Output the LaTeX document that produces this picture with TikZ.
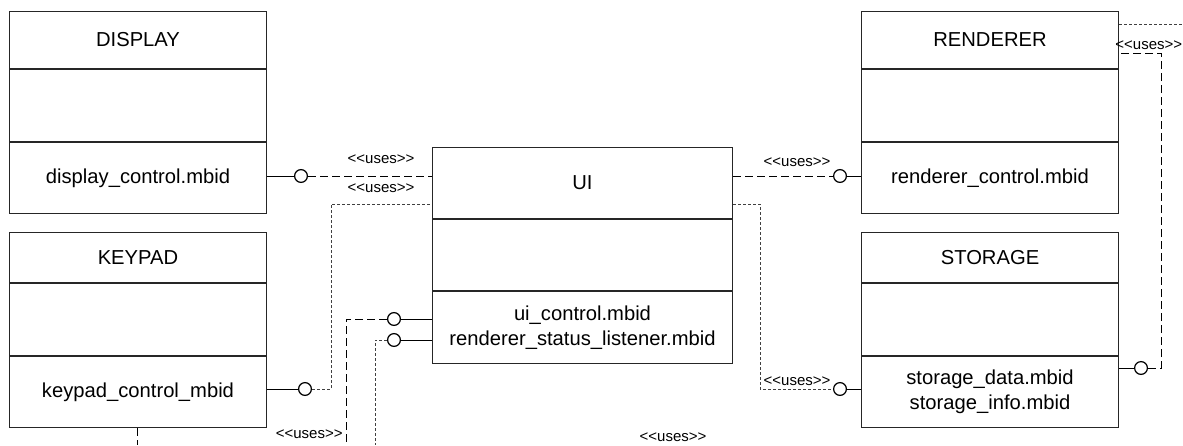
\documentclass[tikz,border=0pt]{standalone}
\usepackage{fontspec}
\setmainfont{Liberation Sans}
\usetikzlibrary{positioning}

\begin{document}
\begin{tikzpicture}[
    x=0.5pt, y=-0.5pt,
    clspart/.style={rectangle, draw=black!85, fill=white, line width=0.5pt,
                    minimum width=128.5pt, inner sep=0pt, font=\fontsize{10.1}{12.5}\selectfont,
                    align=center},
    uipart/.style={clspart, minimum width=150pt},
    lolli/.style={circle, draw=black, fill=white, line width=0.6pt,
                  minimum size=6.4pt, inner sep=0pt},
    usesline/.style={line width=0.5pt, dash pattern=on 4pt off 2pt},
    usesdot/.style={line width=0.4pt, black!75, dash pattern=on 1.5pt off 1pt},
    conn/.style={line width=0.5pt},
    useslbl/.style={font=\fontsize{7.5}{9}\selectfont, inner sep=0pt}
  ]
    \useasboundingbox (0,0) rectangle (1183,445);
    \clip (0,0) rectangle (1183,445);

    % --- DISPLAY ---
    \node[clspart, minimum height=28.5pt, anchor=north west] (disphead) at (9,11) {DISPLAY};
    \node[clspart, minimum height=36pt, below=0pt of disphead] (dispbody) {};
    \node[clspart, minimum height=35.5pt, below=0pt of dispbody] (dispfoot) {display\_control.mbid};

    % --- KEYPAD ---
    \node[clspart, minimum height=25pt, anchor=north west] (kphead) at (9,232) {KEYPAD};
    \node[clspart, minimum height=36pt, below=0pt of kphead] (kpbody) {};
    \node[clspart, minimum height=35.5pt, below=0pt of kpbody] (kpfoot) {keypad\_control\_mbid};

    % --- UI ---
    \node[uipart, minimum height=35.5pt, anchor=north west] (uihead) at (432,147) {UI};
    \node[uipart, minimum height=35.5pt, below=0pt of uihead] (uibody) {};
    \node[uipart, minimum height=36pt, below=0pt of uibody] (uifoot)
      {ui\_control.mbid\\renderer\_status\_listener.mbid};

    % --- RENDERER ---
    \node[clspart, minimum height=28.5pt, anchor=north west] (rendhead) at (861,11) {RENDERER};
    \node[clspart, minimum height=36pt, below=0pt of rendhead] (rendbody) {};
    \node[clspart, minimum height=35.5pt, below=0pt of rendbody] (rendfoot) {renderer\_control.mbid};

    % --- STORAGE ---
    \node[clspart, minimum height=25pt, anchor=north west] (storhead) at (861,232) {STORAGE};
    \node[clspart, minimum height=36pt, below=0pt of storhead] (storbody) {};
    \node[clspart, minimum height=35.5pt, below=0pt of storbody] (storfoot)
      {storage\_data.mbid\\storage\_info.mbid};

    % Interface circles
    \node[lolli] (dispif) at (301,176) {};
    \node[lolli] (kpif)   at (305,389) {};
    \node[lolli] (uictl)  at (394,319) {};
    \node[lolli] (uirsl)  at (394,340) {};
    \node[lolli] (rendif) at (840,176) {};
    \node[lolli] (storif) at (840,389) {};
    \node[lolli] (storex) at (1141,368) {};

    % Lollipop stems
    \draw[conn] (dispfoot.east |- dispif) -- (dispif);
    \draw[conn] (kpfoot.east |- kpif) -- (kpif);
    \draw[conn] (uifoot.west |- uictl) -- (uictl);
    \draw[conn] (uifoot.west |- uirsl) -- (uirsl);
    \draw[conn] (rendfoot.west |- rendif) -- (rendif);
    \draw[conn] (storfoot.west |- storif) -- (storif);
    \draw[conn] (storfoot.east |- storex) -- (storex);

    % Uses connectors
    \draw[usesline] (dispif) -- (dispif -| uihead.west);
    \draw[usesdot] (kpif) -- (331,389) -- (331,204) -- (uihead.west |- 0,204);
    \draw[usesline] (uictl) -- (346,319) -- (346,445);
    \draw[usesdot] (uirsl) -- (375,340) -- (375,445);
    \draw[usesline] (uihead.east |- rendif) -- (rendif);
    \draw[usesdot] (uihead.east |- 0,204) -- (760,204) -- (760,389) -- (storif);
    \draw[usesline] (storex) -- (1161,368) -- (1161,53) -- (rendhead.east |- 0,53);
    \draw[usesdot] (rendhead.east |- 0,24) -- (1183,24);
    \draw[usesline] (kpfoot.south -| 137,0) -- (137,445);

    % Labels
    \node[useslbl] (l1) at (381,159) {<{}<uses>{}>};
    \node[useslbl] (l2) at (381,188) {<{}<uses>{}>};
    \node[useslbl, anchor=east] (l3) at (343,434) {<{}<uses>{}>};
    \node[useslbl] (l4) at (797,162) {<{}<uses>{}>};
    \node[useslbl] (l5) at (797,381) {<{}<uses>{}>};
    \node[useslbl, anchor=east] (l6) at (1182.5,45) {<{}<uses>{}>};
    \node[useslbl] (l7) at (673,437) {<{}<uses>{}>};
\end{tikzpicture}
\end{document}
